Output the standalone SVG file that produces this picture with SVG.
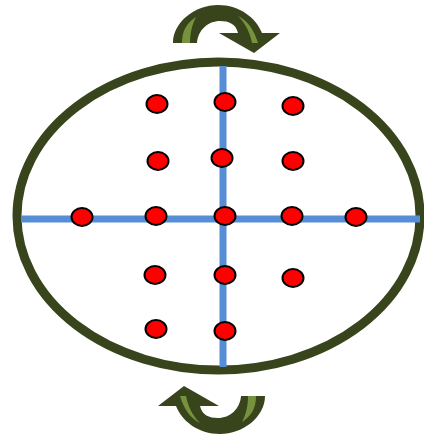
<svg xmlns="http://www.w3.org/2000/svg" width="424" height="440" viewBox="0 0 424 440">
<defs>
<style>
.dot{fill:#FF0000;stroke:#000;stroke-width:2}
.axis{stroke:#558ED5;stroke-width:7;fill:none}
.arrow{fill:#38451C}
.hl{fill:#76923C}
</style>
<g id="rotArrow">
<path class="arrow" d="M173,43 C173,22 195,5 218,5 C240,5 256,18 262,33 L280,33 L254,53 L219,33 L238,33 C236,24 229,21 220,21 C208,21 198,30 197,43 Z"/>
<path class="hl" d="M182,43 C182,30 187,23 196,17 C192,25 190,33 190,43 Z"/>
<path class="hl" d="M238,16 C248,21 254,30 258,43 L252,43 C250,33 246,24 238,16 Z"/>
</g>
</defs>
<g id="boundary">
<ellipse cx="218.5" cy="216" rx="201.5" ry="154" fill="none" stroke="#38451C" stroke-width="9"/>
</g>
<g id="connectors">
<line class="axis" x1="223" y1="66" x2="223" y2="367"/>
<line class="axis" x1="21" y1="219" x2="420" y2="219"/>
</g>
<g id="arrow-top"><use href="#rotArrow"/></g>
<g id="arrow-bottom"><use href="#rotArrow" transform="rotate(180 219 219.5)"/></g>
<g id="dots">
<g id="d1"><ellipse class="dot" cx="157" cy="104" rx="10.5" ry="9"/></g>
<g id="d2"><ellipse class="dot" cx="225" cy="102" rx="10.5" ry="9"/></g>
<g id="d3"><ellipse class="dot" cx="293" cy="106" rx="10.5" ry="9"/></g>
<g id="d4"><ellipse class="dot" cx="158" cy="161" rx="10.5" ry="9"/></g>
<g id="d5"><ellipse class="dot" cx="222" cy="158" rx="10.5" ry="9"/></g>
<g id="d6"><ellipse class="dot" cx="293" cy="161" rx="10.5" ry="9"/></g>
<g id="d7"><ellipse class="dot" cx="82" cy="217" rx="10.5" ry="9"/></g>
<g id="d8"><ellipse class="dot" cx="156" cy="216" rx="10.5" ry="9"/></g>
<g id="d9"><ellipse class="dot" cx="225" cy="216" rx="10.5" ry="9"/></g>
<g id="d10"><ellipse class="dot" cx="292" cy="216" rx="10.5" ry="9"/></g>
<g id="d11"><ellipse class="dot" cx="356" cy="217" rx="10.5" ry="9"/></g>
<g id="d12"><ellipse class="dot" cx="155" cy="275" rx="10.5" ry="9"/></g>
<g id="d13"><ellipse class="dot" cx="225" cy="275" rx="10.5" ry="9"/></g>
<g id="d14"><ellipse class="dot" cx="293" cy="278" rx="10.5" ry="9"/></g>
<g id="d15"><ellipse class="dot" cx="156" cy="329" rx="10.5" ry="9"/></g>
<g id="d16"><ellipse class="dot" cx="225" cy="331" rx="10.5" ry="9"/></g>
</g>
</svg>
